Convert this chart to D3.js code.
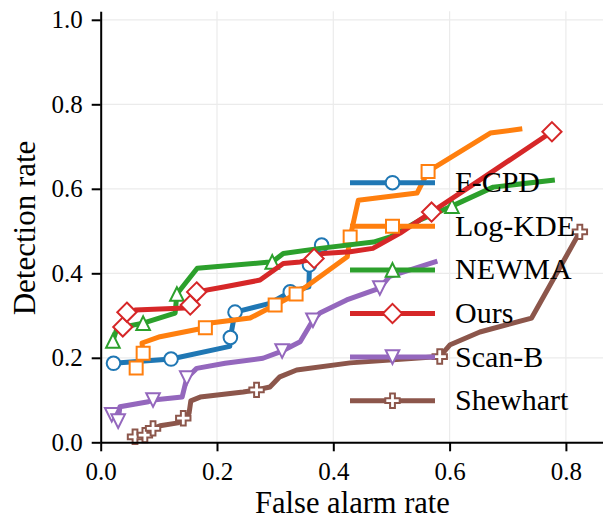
<!DOCTYPE html>
<html>
<head>
<meta charset="utf-8">
<script src="https://cdn.jsdelivr.net/npm/d3@7"></script>
<style>
  body { margin: 0; background: #fff; }
  svg { display: block; }
  svg text { font-family: 'Liberation Serif', 'Times New Roman', Tinos, 'DejaVu Serif', serif !important; fill: #000; }
</style>
</head>
<body>
<svg id="chart" width="603" height="520"></svg>
<script>
// Tick values
const xTicks = [0, 0.2, 0.4, 0.6, 0.8];
const yTicks = [0, 0.2, 0.4, 0.6, 0.8, 1.0];

// Series names (legend order)
const seriesNames = ["F-CPD", "Log-KDE", "NEWMA", "Ours", "Scan-B", "Shewhart"];

// F-CPD
const fcpdFar = [0.022, 0.121, 0.222, 0.223, 0.231, 0.291, 0.326, 0.358, 0.359, 0.380];
const fcpdDet = [0.187, 0.197, 0.227, 0.248, 0.308, 0.329, 0.356, 0.368, 0.420, 0.467];
const fcpdMarked = [0, 1, 3, 4, 6, 8, 9];

// Log-KDE
const logkdeFar = [0.061, 0.073, 0.071, 0.102, 0.180, 0.192, 0.257, 0.300, 0.336, 0.424, 0.429, 0.443, 0.544, 0.563, 0.670, 0.725];
const logkdeDet = [0.176, 0.211, 0.235, 0.250, 0.271, 0.283, 0.294, 0.325, 0.351, 0.439, 0.486, 0.573, 0.590, 0.641, 0.732, 0.742];
const logkdeMarked = [0, 1, 4, 7, 8, 10, 13];

// NEWMA
const newmaFar = [0.021, 0.028, 0.073, 0.128, 0.131, 0.166, 0.286, 0.295, 0.314, 0.377, 0.469, 0.498, 0.549, 0.604, 0.675, 0.781];
const newmaDet = [0.240, 0.270, 0.282, 0.306, 0.351, 0.412, 0.426, 0.427, 0.447, 0.459, 0.474, 0.486, 0.526, 0.559, 0.604, 0.621];
const newmaMarked = [0, 2, 4, 7, 13];

// Ours
const oursFar = [0.038, 0.045, 0.059, 0.145, 0.154, 0.165, 0.214, 0.274, 0.314, 0.343, 0.367, 0.382, 0.429, 0.468, 0.515, 0.569, 0.635, 0.776];
const oursDet = [0.273, 0.308, 0.313, 0.318, 0.325, 0.356, 0.368, 0.384, 0.423, 0.427, 0.435, 0.447, 0.451, 0.459, 0.495, 0.545, 0.605, 0.735];
const oursMarked = [0, 1, 4, 5, 10, 15, 17];

// Scan-B
const scanbFar = [0.019, 0.030, 0.033, 0.082, 0.090, 0.140, 0.148, 0.165, 0.214, 0.279, 0.312, 0.343, 0.365, 0.377, 0.423, 0.480, 0.497, 0.579];
const scanbDet = [0.065, 0.050, 0.084, 0.096, 0.100, 0.107, 0.152, 0.175, 0.187, 0.199, 0.216, 0.238, 0.289, 0.306, 0.337, 0.365, 0.393, 0.429];
const scanbMarked = [0, 1, 4, 6, 10, 12, 15];

// Shewhart
const shewFar = [0.059, 0.076, 0.090, 0.102, 0.133, 0.142, 0.152, 0.155, 0.171, 0.245, 0.268, 0.291, 0.308, 0.337, 0.429, 0.583, 0.601, 0.652, 0.741, 0.824];
const shewDet = [0.013, 0.017, 0.033, 0.039, 0.046, 0.057, 0.069, 0.098, 0.107, 0.119, 0.124, 0.131, 0.155, 0.171, 0.188, 0.203, 0.231, 0.261, 0.294, 0.498];
const shewMarked = [0, 1, 2, 5, 10, 15, 19];

const colors = ["#1f77b4", "#ff7f0e", "#2ca02c", "#d62728", "#9467bd", "#8c564b"];
const shapes = ["circle", "square", "triUp", "diamond", "triDown", "plus"];

const series = [
  [fcpdFar, fcpdDet, fcpdMarked],
  [logkdeFar, logkdeDet, logkdeMarked],
  [newmaFar, newmaDet, newmaMarked],
  [oursFar, oursDet, oursMarked],
  [scanbFar, scanbDet, scanbMarked],
  [shewFar, shewDet, shewMarked]
].map(([xs, ys, marks], i) => ({
  name: seriesNames[i],
  color: colors[i],
  shape: shapes[i],
  points: xs.map((v, j) => ({ x: v, y: ys[j] })),
  marked: marks
}));

const svg = d3.select("#chart");
const serif = "'Liberation Serif', 'Times New Roman', Tinos, 'DejaVu Serif', serif";

const x = d3.scaleLinear().domain([0, 0.865]).range([100.7, 100.7 + 0.865 * 581.5]);
const y = d3.scaleLinear().domain([0, 1.02]).range([442.3, 442.3 - 1.02 * 422.5]);

// Grid
const grid = svg.append("g");
grid.selectAll("line.gx").data(xTicks).join("line")
  .attr("x1", d => x(d)).attr("x2", d => x(d))
  .attr("y1", y(0)).attr("y2", y(1.02))
  .attr("stroke", "#ebebeb").attr("stroke-width", 1.2);
grid.selectAll("line.gy").data(yTicks).join("line")
  .attr("y1", d => y(d)).attr("y2", d => y(d))
  .attr("x1", x(0)).attr("x2", x(0.865))
  .attr("stroke", "#ebebeb").attr("stroke-width", 1.2);

// Marker shapes
function markerPath(shape) {
  switch (shape) {
    case "circle": { const r = 6.8; return `M${r},0A${r},${r},0,1,1,${-r},0A${r},${r},0,1,1,${r},0Z`; }
    case "square": { const h = 6.5; return `M${-h},${-h}H${h}V${h}H${-h}Z`; }
    case "triUp": { const h = 6.8; return `M0,${-h}L${h},${h}L${-h},${h}Z`; }
    case "triDown": { const h = 6.8; return `M0,${h}L${h},${-h}L${-h},${-h}Z`; }
    case "diamond": { const h = 9.6; return `M0,${-h}L${h},0L0,${h}L${-h},0Z`; }
    case "plus": {
      const a = 2.4, b = 7.2;
      return `M${-a},${-b}H${a}V${-a}H${b}V${a}H${a}V${b}H${-a}V${a}H${-b}V${-a}H${-a}Z`;
    }
  }
}

const line = d3.line().x(d => x(d.x)).y(d => y(d.y));

const plot = svg.append("g");
series.forEach(s => {
  const g = plot.append("g");
  g.append("path")
    .attr("d", line(s.points))
    .attr("fill", "none")
    .attr("stroke", s.color)
    .attr("stroke-width", 5)
    .attr("stroke-linejoin", "round")
    .attr("stroke-linecap", "butt");
  g.selectAll("path.m").data(s.marked.map(i => s.points[i])).join("path")
    .attr("class", "m")
    .attr("transform", d => `translate(${x(d.x)},${y(d.y)})`)
    .attr("d", markerPath(s.shape))
    .attr("fill", "#fff")
    .attr("stroke", s.color)
    .attr("stroke-width", 2);
});

// Axes
const xAxis = svg.append("g")
  .attr("transform", `translate(0,${y(0)})`)
  .call(d3.axisBottom(x).tickValues(xTicks).tickFormat(d3.format(".1f")).tickSize(9).tickPadding(11).tickSizeOuter(0));
const yAxis = svg.append("g")
  .attr("transform", `translate(${x(0)},0)`)
  .call(d3.axisLeft(y).tickValues(yTicks).tickFormat(d3.format(".1f")).tickSize(9).tickPadding(9).tickSizeOuter(0));
[xAxis, yAxis].forEach(a => {
  a.attr("font-family", serif).attr("font-size", 25);
  a.select(".domain").attr("stroke", "#000").attr("stroke-width", 2);
  a.selectAll(".tick line").attr("stroke", "#000").attr("stroke-width", 2);
  a.selectAll(".tick text").attr("fill", "#000");
});

// Axis titles
svg.append("text")
  .attr("x", 352.5).attr("y", 513)
  .attr("text-anchor", "middle")
  .attr("font-family", serif)
  .attr("font-size", 30.5)
  .text("False alarm rate");
svg.append("text")
  .attr("transform", "translate(35,228) rotate(-90)")
  .attr("text-anchor", "middle")
  .attr("font-family", serif)
  .attr("font-size", 31)
  .text("Detection rate");

// Legend
const legend = svg.append("g").attr("font-family", serif);
series.forEach((s, i) => {
  const cy = 182.7 + i * 43.6;
  legend.append("line")
    .attr("x1", 350).attr("x2", 435).attr("y1", cy).attr("y2", cy)
    .attr("stroke", s.color).attr("stroke-width", 5);
  legend.append("path")
    .attr("transform", `translate(392.5,${cy})`)
    .attr("d", markerPath(s.shape))
    .attr("fill", "#fff").attr("stroke", s.color).attr("stroke-width", 2);
  legend.append("text")
    .attr("x", 455).attr("y", cy + 9.5)
    .attr("font-size", 30)
    .text(s.name);
});
</script>
</body>
</html>
